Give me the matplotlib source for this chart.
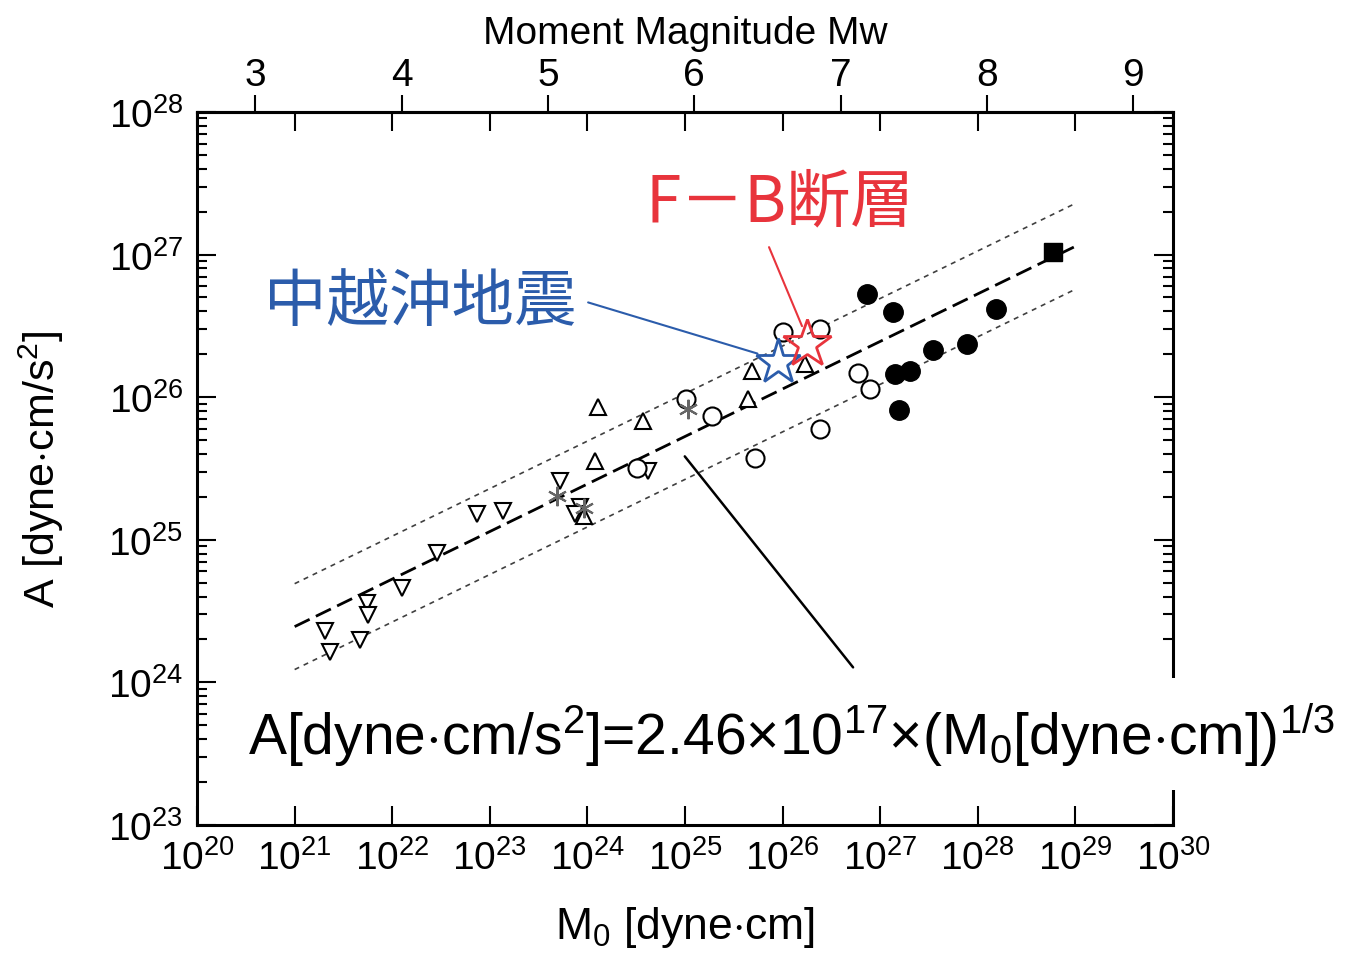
import numpy as np
import matplotlib
matplotlib.use("Agg")
import matplotlib.pyplot as plt

plt.rcParams['font.family'] = ['Liberation Sans', 'DejaVu Sans']
plt.rcParams['mathtext.fontset'] = 'custom'
plt.rcParams['mathtext.rm'] = 'Liberation Sans'
plt.rcParams['mathtext.it'] = 'Liberation Sans:italic'

# log10 of M0 [dyne cm] and A [dyne cm/s^2]
inv_tri_x = [21.31, 21.36, 21.67, 21.74, 21.75, 22.10, 22.46, 22.87, 23.13, 23.72, 23.92, 23.87, 24.62]
inv_tri_y = [24.36, 24.21, 24.30, 24.56, 24.47, 24.66, 24.91, 25.18, 25.20, 25.41, 25.23, 25.18, 25.48]
tri_x = [24.11, 24.57, 24.08, 25.65, 25.69, 23.96, 26.23]
tri_y = [25.93, 25.83, 25.55, 25.99, 26.18, 25.17, 26.23]
circ_x = [24.51, 25.28, 25.01, 25.72, 26.38, 26.77, 26.90, 26.00, 26.38]
circ_y = [25.50, 25.87, 25.99, 25.57, 25.78, 26.17, 26.06, 26.46, 26.48]
ast_x = [25.03, 23.69, 23.96]
ast_y = [25.92, 25.31, 25.22]
dot_x = [26.87, 27.13, 28.19, 27.54, 27.89, 27.15, 27.31, 27.19]
dot_y = [26.72, 26.60, 26.62, 26.33, 26.37, 26.16, 26.18, 25.91]
sq_x = [28.77]
sq_y = [27.02]
chuetsu = (25.95, 26.25)
fb_fault = (26.25, 26.37)

coef = 2.46e17
fit_m0 = np.array([1e21, 1e29])

fig = plt.figure(figsize=(13.59, 9.54), dpi=100)
ax = fig.add_axes([0.145, 0.1342, 0.7181, 0.7474])
ax.set_xscale('log')
ax.set_yscale('log')
ax.set_xlim(1e20, 1e30)
ax.set_ylim(1e23, 1e28)

a_fit = coef * fit_m0 ** (1 / 3)
ax.plot(fit_m0, a_fit, color='black', lw=2.0, ls=(0, (6, 2.5)), zorder=2)
ax.plot(fit_m0, a_fit * 2, color='0.25', lw=1.2, ls=(0, (3, 3)), zorder=2)
ax.plot(fit_m0, a_fit / 2, color='0.25', lw=1.2, ls=(0, (3, 3)), zorder=2)

p = lambda v: 10.0 ** np.array(v)
ax.plot(p(inv_tri_x), p(inv_tri_y), 'v', ms=12, mfc='white', mec='black', mew=1.5, ls='none', zorder=3)
ax.plot(p(tri_x), p(tri_y), '^', ms=12, mfc='white', mec='black', mew=1.5, ls='none', zorder=3)
ax.plot(p(circ_x), p(circ_y), 'o', ms=13, mfc='white', mec='black', mew=1.5, ls='none', zorder=3)
ax.plot(p(ast_x), p(ast_y), marker=(6, 2, 0), ms=14, mec='0.4', mew=1.5, ls='none', zorder=3)
ax.plot(p(dot_x), p(dot_y), 'o', ms=14, color='black', ls='none', zorder=3)
ax.plot(p(sq_x), p(sq_y), 's', ms=13, color='black', ls='none', zorder=3)
ax.plot(10 ** chuetsu[0], 10 ** chuetsu[1], '*', ms=34, mfc='none', mec='#2b5cab', mew=2, zorder=4)
ax.plot(10 ** fb_fault[0], 10 ** fb_fault[1], '*', ms=36, mfc='none', mec='#e8343c', mew=2, zorder=5)

# annotations
cjk = ['Noto Sans CJK JP', 'DejaVu Sans']
ax.text(10 ** 25.97, 10 ** 27.37, 'F－B断層', color='#e8343c', fontsize=46,
        family=cjk, ha='center', va='center')
ax.annotate('', xy=(10 ** 26.21, 10 ** 26.48), xytext=(10 ** 25.85, 10 ** 27.07),
            arrowprops=dict(arrowstyle='-', color='#e8343c', lw=1.5))
ax.text(10 ** 22.29, 10 ** 26.67, '中越沖地震', color='#2b5cab', fontsize=45,
        family=cjk, ha='center', va='center')
ax.annotate('', xy=(10 ** 25.77, 10 ** 26.30), xytext=(10 ** 23.98, 10 ** 26.67),
            arrowprops=dict(arrowstyle='-', color='#2b5cab', lw=1.5))
ax.annotate('', xy=(10 ** 24.98, 10 ** 25.60), xytext=(10 ** 26.74, 10 ** 24.09),
            arrowprops=dict(arrowstyle='-', color='black', lw=1.8))

formula = (r'A[dyne$\cdot$cm/s$^2$]=2.46$\times$10$^{17}$$\times$'
           r'(M$_0$[dyne$\cdot$cm])$^{1/3}$')
ax.text(10 ** 20.52, 10 ** 23.64, formula, fontsize=41, ha='left', va='center',
        zorder=10, clip_on=False,
        bbox=dict(facecolor='white', edgecolor='none', pad=16))

for s in ax.spines.values():
    s.set_linewidth(2.2)
ax.tick_params(which='both', direction='in', top=True, right=True, width=1.5)
ax.tick_params(which='major', length=14, labelsize=28, pad=10)
ax.tick_params(which='minor', length=7)
ax.set_xticks([10.0 ** k for k in range(20, 31)])
ax.set_yticks([10.0 ** k for k in range(23, 29)])
ax.set_xlabel(r'M$_0$ [dyne$\cdot$cm]', fontsize=32, labelpad=20)
ax.set_ylabel(r'A [dyne$\cdot$cm/s$^2$]', fontsize=31, labelpad=30)

top = ax.secondary_xaxis('top', functions=(
    lambda m: 2 / 3 * np.log10(np.clip(m, 1e-300, None)) - 10.73,
    lambda w: 10 ** ((w + 10.73) * 1.5)))
top.set_xticks([3, 4, 5, 6, 7, 8, 9])
top.set_xticklabels(['3', '4', '5', '6', '7', '8', '9'])
top.minorticks_off()
top.tick_params(direction='out', length=12, width=1.5, labelsize=28, pad=2)
top.spines['top'].set_linewidth(2.2)
top.set_xlabel('Moment Magnitude Mw', fontsize=28, labelpad=10)

fig.savefig('out.png', dpi=100)
